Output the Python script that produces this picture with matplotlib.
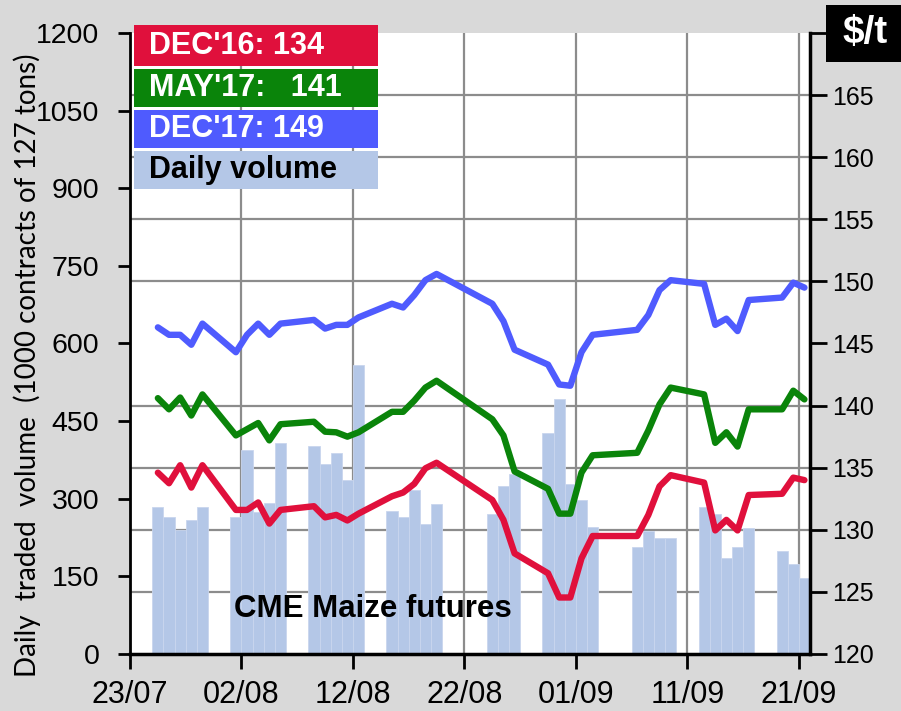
import numpy as np
import pandas as pd
import matplotlib
matplotlib.use("Agg")
from matplotlib import pyplot as plt
from matplotlib.patches import Rectangle
from matplotlib.ticker import MultipleLocator
import matplotlib.dates as mdates

# trading days shown on the chart (2016)
days = ["07-25", "07-26", "07-27", "07-28", "07-29",
        "08-01", "08-02", "08-03", "08-04", "08-05",
        "08-08", "08-09", "08-10", "08-11", "08-12",
        "08-15", "08-16", "08-17", "08-18", "08-19",
        "08-24", "08-25", "08-26",
        "08-29", "08-30", "08-31", "09-01", "09-02",
        "09-06", "09-07", "09-08", "09-09",
        "09-12", "09-13", "09-14", "09-15", "09-16",
        "09-19", "09-20", "09-21"]

# daily traded volume, 1000 contracts
volume = [284, 265, 239, 258, 284,
          265, 395, 275, 291, 407,
          401, 368, 388, 336, 558,
          277, 265, 316, 252, 290,
          271, 324, 348,
          427, 492, 329, 297, 245,
          206, 238, 225, 225,
          284, 270, 186, 206, 244,
          199, 173, 147]

# settlement prices, $/t
dec16 = [134.6, 133.75, 135.2, 133.4, 135.2,
         131.6, 131.6, 132.2, 130.5, 131.6,
         131.9, 131.0, 131.2, 130.75, 131.3,
         132.7, 133.0, 133.7, 134.95, 135.4,
         132.4, 130.8, 128.1,
         126.5, 124.55, 124.55, 127.7, 129.5,
         129.5, 131.2, 133.5, 134.4,
         133.8, 129.95, 130.8, 129.95, 132.8,
         132.9, 134.2, 134.0]

may17 = [140.6, 139.7, 140.65, 139.2, 140.9,
         137.6, 138.1, 138.6, 137.2, 138.5,
         138.7, 137.9, 137.85, 137.5, 137.85,
         139.5, 139.5, 140.4, 141.45, 142.0,
         138.9, 137.6, 134.7,
         133.3, 131.3, 131.3, 134.6, 136.0,
         136.2, 138.0, 140.1, 141.45,
         140.9, 137.0, 137.85, 136.7, 139.7,
         139.7, 141.2, 140.5]

dec17 = [146.3, 145.7, 145.7, 144.9, 146.6,
         144.3, 145.7, 146.6, 145.7, 146.6,
         146.9, 146.2, 146.5, 146.5, 147.1,
         148.2, 147.9, 148.9, 150.1, 150.6,
         148.2, 146.8, 144.5,
         143.3, 141.7, 141.6, 144.3, 145.7,
         146.1, 147.3, 149.3, 150.1,
         149.8, 146.5, 147.0, 146.0, 148.5,
         148.7, 149.9, 149.5]

legend_labels = ["DEC'16: 134", "MAY'17:   141", "DEC'17: 149", "Daily volume"]

RED, GREEN, BLUE, BARS = "#e0103c", "#0a840a", "#4f5bfe", "#b4c7e7"
GRID = "#8c8c8c"

x = pd.to_datetime(["2016-" + d for d in days]) + pd.Timedelta(hours=12)
xticks = pd.date_range("2016-07-23", periods=7, freq="10D")

fig = plt.figure(figsize=(9.01, 7.11), dpi=100, facecolor="#d9d9d9")
ax = fig.add_axes([130 / 901, 57 / 711, 680 / 901, 621 / 711])
ax.set_facecolor("white")

# volume bars on the left axis
ax.bar(x, volume, width=1.0, color=BARS, edgecolor="#c9d6ee", linewidth=0.6, zorder=2)
ax.set_ylim(0, 1200)
ax.set_yticks(np.arange(0, 1201, 150))
ax.yaxis.set_minor_locator(MultipleLocator(120))  # lines up with the $/t grid
ax.set_xlim(pd.Timestamp("2016-07-23"), pd.Timestamp("2016-09-22"))
ax.set_xticks(xticks)
ax.xaxis.set_major_formatter(mdates.DateFormatter("%d/%m"))
ax.set_axisbelow(True)
ax.grid(axis="x", which="major", color=GRID, lw=1.6)
ax.grid(axis="y", which="minor", color=GRID, lw=1.6)
ax.tick_params(axis="y", which="minor", length=0)
ax.tick_params(axis="y", which="major", direction="out", length=9, width=2,
               labelsize=20.5, pad=13)
ax.tick_params(axis="x", direction="out", length=11, width=2, labelsize=22, pad=8)
for lab in ax.get_xticklabels():
    lab.set_family(["Liberation Sans Narrow", "Liberation Sans"])
for lab in ax.get_yticklabels():
    lab.set_family("Liberation Sans")
for s in ["top", "right"]:
    ax.spines[s].set_visible(False)
ax.spines["left"].set_linewidth(2)
ax.spines["bottom"].set_linewidth(2.5)

# prices on the right axis
ax2 = ax.twinx()
for vals, col in [(dec16, RED), (may17, GREEN), (dec17, BLUE)]:
    ax2.plot(x, vals, color=col, lw=4.6, solid_joinstyle="round", solid_capstyle="round", zorder=3)
ax2.set_ylim(120, 170)
ax2.set_yticks(np.arange(120, 171, 5))
ax2.set_yticklabels([str(v) for v in range(120, 170, 5)] + [""])
ax2.tick_params(axis="y", direction="out", length=12, width=2, labelsize=18, pad=4)
for lab in ax2.get_yticklabels():
    lab.set_family("Liberation Sans")
for s in ["top", "left", "bottom"]:
    ax2.spines[s].set_visible(False)
ax2.spines["right"].set_linewidth(2.5)

# legend boxes
rows = [(25, 66), (69, 107), (110, 148), (151, 189)]
box_cols = [RED, GREEN, BLUE, BARS]
txt_cols = ["white", "white", "white", "black"]
for (y0, y1), bc, tc, lab in zip(rows, box_cols, txt_cols, legend_labels):
    fig.add_artist(Rectangle((134 / 901, 1 - y1 / 711), 244 / 901, (y1 - y0) / 711,
                             transform=fig.transFigure, facecolor=bc, edgecolor="none", zorder=5))
    fig.text(149 / 901, 1 - (y0 + y1) / 2 / 711, lab, color=tc, fontsize=22,
             fontweight="bold", family="Liberation Sans", va="center", ha="left", zorder=6)

# unit box
fig.add_artist(Rectangle((826 / 901, 1 - 62 / 711), 75 / 901, 57 / 711,
                         transform=fig.transFigure, facecolor="black", edgecolor="none", zorder=5))
fig.text(865 / 901, 1 - 33 / 711, "$/t", color="white", fontsize=28, fontweight="bold",
         family="Liberation Sans", ha="center", va="center", zorder=6)

fig.text(373 / 901, 1 - 609 / 711, "CME Maize futures", fontsize=22.5, fontweight="bold",
         family="Liberation Sans", ha="center", va="center", zorder=6)

fig.text(27 / 901, 1 - 365 / 711, "Daily  traded  volume  (1000 contracts of 127 tons)",
         rotation=90, fontsize=20, family="Lato", ha="center", va="center")

fig.savefig("out.png", dpi=100, facecolor=fig.get_facecolor())
